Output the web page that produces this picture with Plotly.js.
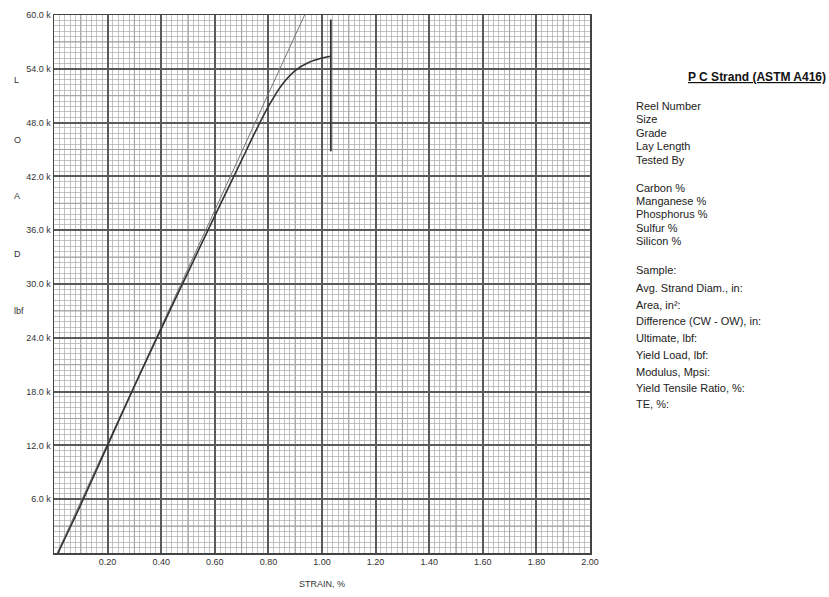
<!DOCTYPE html>
<html>
<head>
<meta charset="utf-8">
<script src="https://cdn.plot.ly/plotly-3.0.1.min.js"></script>
<style>html,body{margin:0;padding:0;background:#fff;}#chart{width:829px;height:597px;}</style>
</head>
<body>
<div id="chart"></div>
<script>
// ---- data ----
const strain = [0.015, 0.05, 0.10, 0.20, 0.30, 0.40, 0.50, 0.60, 0.70, 0.75, 0.80, 0.85, 0.90, 0.95, 1.00, 1.033];
const loadK  = [0.0, 2.2, 5.4, 12.0, 18.6, 25.0, 31.3, 37.6, 43.8, 46.9, 49.8, 52.2, 53.8, 54.7, 55.2, 55.4];
const modulusLineStrain = [0.012, 0.935];
const modulusLineLoadK  = [0.0, 60.0];
const breakStrain = [1.033, 1.033];
const breakLoadK  = [44.8, 59.5];
const xTickVals = [0.2, 0.4, 0.6, 0.8, 1.0, 1.2, 1.4, 1.6, 1.8, 2.0];
const xTickText = ["0.20", "0.40", "0.60", "0.80", "1.00", "1.20", "1.40", "1.60", "1.80", "2.00"];
const yTickVals = [6, 12, 18, 24, 30, 36, 42, 48, 54, 60];
const yTickText = ["6.0 k", "12.0 k", "18.0 k", "24.0 k", "30.0 k", "36.0 k", "42.0 k", "48.0 k", "54.0 k", "60.0 k"];
const axisLetters = ["L", "O", "A", "D", "lbf"];
const panelTitle = "P C Strand (ASTM A416)";
const groupA = ["Reel Number", "Size", "Grade", "Lay Length", "Tested By"];
const groupB = ["Carbon %", "Manganese %", "Phosphorus %", "Sulfur %", "Silicon %"];
const groupC = ["Sample:", "Avg. Strand Diam., in:", "Area, in²:", "Difference (CW - OW), in:", "Ultimate, lbf:", "Yield Load, lbf:", "Modulus, Mpsi:", "Yield Tensile Ratio, %:", "TE, %:"];

// ---- layout helpers (pixel -> paper) ----
const L = 54, R = 590, T = 15, B = 553;
const px = x => (x - L) / (R - L);
const py = y => (B - y) / (B - T);
const FONT = "Liberation Sans, Arial, sans-serif";

const traces = [
  {x: modulusLineStrain, y: modulusLineLoadK, mode: 'lines', line: {color: '#777', width: 1}, hoverinfo: 'skip', showlegend: false},
  {x: strain, y: loadK, mode: 'lines', line: {color: '#333', width: 1.6, shape: 'spline', smoothing: 0.8}, showlegend: false},
  {x: breakStrain, y: breakLoadK, mode: 'lines', line: {color: '#333', width: 1.8}, showlegend: false}
];

// medium grid (every 0.1 strain / 3 k) as background shapes
const shapes = [];
for (let i = 1; i < 20; i += 2) shapes.push({type: 'line', layer: 'below', xref: 'x', yref: 'paper', x0: i / 10, x1: i / 10, y0: 0, y1: 1, line: {color: '#8a8a8a', width: 1}});
for (let j = 3; j < 60; j += 6) shapes.push({type: 'line', layer: 'below', xref: 'paper', yref: 'y', x0: 0, x1: 1, y0: j, y1: j, line: {color: '#8a8a8a', width: 1}});

const annotations = [];
annotations.push({xref: 'paper', yref: 'paper', x: px(828), y: py(77), xanchor: 'right', yanchor: 'middle',
  text: '<b><u>' + panelTitle + '</u></b>', showarrow: false, font: {family: FONT, size: 12, color: '#111'}});
const addGroup = (arr, ys) => arr.forEach((t, i) => annotations.push({xref: 'paper', yref: 'paper', x: px(634), y: py(ys[i]),
  xanchor: 'left', yanchor: 'middle', text: t, showarrow: false, font: {family: FONT, size: 11, color: '#222'}}));
addGroup(groupA, [106, 119, 133, 146, 160]);
addGroup(groupB, [188, 201, 214, 228, 241]);
addGroup(groupC, [270, 288, 305, 321, 338, 355, 372, 388, 404]);
const letterY = [80, 140, 196, 254, 311];
axisLetters.forEach((t, i) => annotations.push({xref: 'paper', yref: 'paper', x: px(12), y: py(letterY[i]), xanchor: 'left', yanchor: 'middle',
  text: t, showarrow: false, font: {family: FONT, size: 9, color: '#333'}}));

const layout = {
  width: 829, height: 597,
  margin: {l: L, r: 829 - R, t: T, b: 597 - B},
  paper_bgcolor: '#fff', plot_bgcolor: '#fff',
  font: {family: FONT, color: '#333'},
  xaxis: {
    range: [0, 2.0], tickvals: xTickVals, ticktext: xTickText, ticks: '',
    tickfont: {family: FONT, size: 9, color: '#333'},
    showgrid: true, gridcolor: '#5a5a5a', gridwidth: 2, zeroline: false,
    minor: {dtick: 0.02, showgrid: true, gridcolor: '#aaaaaa', gridwidth: 0.7, ticks: ''},
    showline: true, linecolor: '#444', linewidth: 1.5, mirror: true,
    title: {text: 'STRAIN, %', font: {family: FONT, size: 9, color: '#333'}, standoff: 14}
  },
  yaxis: {
    range: [0, 60], tickvals: yTickVals, ticktext: yTickText, ticks: '',
    tickfont: {family: FONT, size: 9, color: '#333'},
    showgrid: true, gridcolor: '#5a5a5a', gridwidth: 2, zeroline: false,
    minor: {dtick: 0.6, showgrid: true, gridcolor: '#aaaaaa', gridwidth: 0.7, ticks: ''},
    showline: true, linecolor: '#444', linewidth: 1.5, mirror: true
  },
  shapes: shapes,
  annotations: annotations,
  showlegend: false
};

Plotly.newPlot('chart', traces, layout, {displayModeBar: false, staticPlot: true});
</script>
</body>
</html>
